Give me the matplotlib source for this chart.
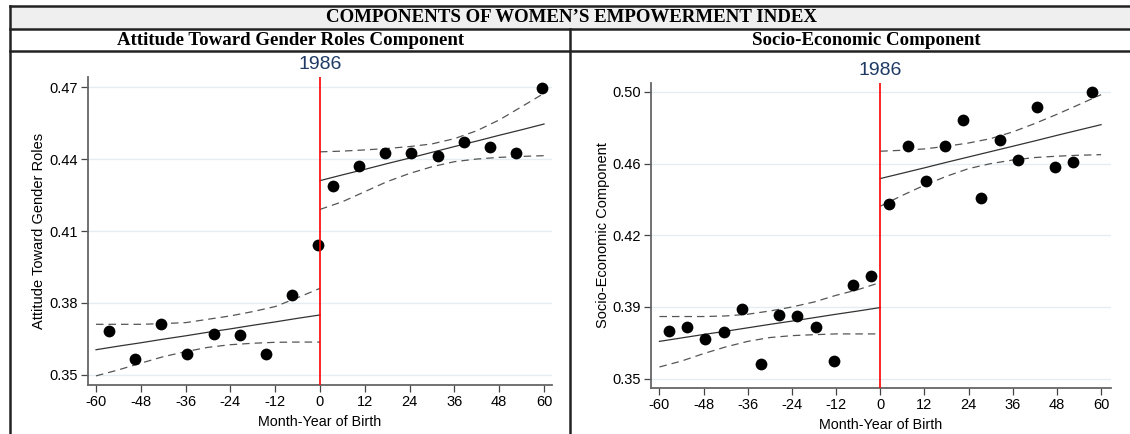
import numpy as np
import matplotlib.pyplot as plt
from matplotlib.lines import Line2D
from matplotlib.patches import Rectangle

plt.rcParams['font.family'] = ['Liberation Sans', 'DejaVu Sans']

# ---- data ----
# panel 1 : attitude toward gender roles (7-month bins)
att_x_pre = [-56.5, -49.5, -42.5, -35.5, -28.5, -21.5, -14.5, -7.5, -0.5]
att_y_pre = [0.3683, 0.3568, 0.3711, 0.3586, 0.3671, 0.3668, 0.3586, 0.3832, 0.4042]
att_x_post = [3.5, 10.5, 17.5, 24.5, 31.5, 38.5, 45.5, 52.5, 59.5]
att_y_post = [0.4288, 0.4372, 0.4426, 0.4424, 0.4413, 0.4472, 0.4449, 0.4426, 0.4697]

# fitted line + 95% CI, read at 6 month steps
ci_x_pre = [-60, -54, -48, -42, -36, -30, -24, -18, -12, -6, 0]
ci_x_post = [0, 6, 12, 18, 24, 30, 36, 42, 48, 54, 60]
att_fit_pre = [0.3605, 0.3620, 0.3634, 0.3649, 0.3663, 0.3678, 0.3692, 0.3707, 0.3721, 0.3736, 0.3750]
att_hi_pre = [0.3711, 0.3711, 0.3711, 0.3714, 0.3718, 0.3732, 0.3746, 0.3764, 0.3785, 0.3822, 0.3861]
att_lo_pre = [0.3496, 0.3521, 0.3549, 0.3576, 0.3597, 0.3615, 0.3626, 0.3632, 0.3636, 0.3637, 0.3637]
att_fit_post = [0.4310, 0.4334, 0.4357, 0.4381, 0.4404, 0.4428, 0.4452, 0.4475, 0.4499, 0.4522, 0.4546]
att_hi_post = [0.4430, 0.4433, 0.4438, 0.4444, 0.4452, 0.4463, 0.4485, 0.4518, 0.4563, 0.4618, 0.4674]
att_lo_post = [0.4190, 0.4222, 0.4264, 0.4306, 0.4340, 0.4368, 0.4389, 0.4400, 0.4407, 0.4411, 0.4414]

# panel 2 : socio-economic component (5-month bins)
soc_x_pre = [-57.5, -52.5, -47.5, -42.5, -37.5, -32.5, -27.5, -22.5, -17.5, -12.5, -7.5, -2.5]
soc_y_pre = [0.3748, 0.3770, 0.3710, 0.3743, 0.3863, 0.3575, 0.3831, 0.3828, 0.3770, 0.3594, 0.3988, 0.4037]
soc_x_post = [2.5, 7.5, 12.5, 17.5, 22.5, 27.5, 32.5, 37.5, 42.5, 47.5, 52.5, 57.5]
soc_y_post = [0.4416, 0.4717, 0.4533, 0.4717, 0.4854, 0.4447, 0.4747, 0.4643, 0.4922, 0.4610, 0.4636, 0.5000]

soc_fit_pre = [0.3695, 0.3713, 0.3731, 0.3748, 0.3766, 0.3784, 0.3801, 0.3819, 0.3837, 0.3854, 0.3872]
soc_hi_pre = [0.3825, 0.3825, 0.3825, 0.3828, 0.3837, 0.3854, 0.3875, 0.3901, 0.3936, 0.3966, 0.4003]
soc_lo_pre = [0.3561, 0.3592, 0.3631, 0.3666, 0.3695, 0.3715, 0.3725, 0.3730, 0.3734, 0.3734, 0.3734]
soc_fit_post = [0.4547, 0.4575, 0.4603, 0.4632, 0.4660, 0.4688, 0.4716, 0.4744, 0.4773, 0.4801, 0.4829]
soc_hi_post = [0.4690, 0.4695, 0.4702, 0.4716, 0.4733, 0.4756, 0.4791, 0.4835, 0.4883, 0.4934, 0.4986]
soc_lo_post = [0.4402, 0.4459, 0.4512, 0.4559, 0.4599, 0.4625, 0.4644, 0.4657, 0.4664, 0.4669, 0.4672]

x_ticks = [-60, -48, -36, -24, -12, 0, 12, 24, 36, 48, 60]
att_ticks = [0.35, 0.38, 0.41, 0.44, 0.47]
att_ticklabels = ['0.35', '0.38', '0.41', '0.44', '0.47']
soc_ticks = [0.35, 0.3875, 0.425, 0.4625, 0.50]
soc_ticklabels = ['0.35', '0.39', '0.42', '0.46', '0.50']

W, H = 1130, 434
fig = plt.figure(figsize=(W / 100, H / 100), dpi=100)


def fx(px):
    return px / W


def fy(py):
    return 1 - py / H


# table-like frame
fig.patches.append(Rectangle((fx(10), fy(29)), 1 - fx(10), fy(6) - fy(29),
                             transform=fig.transFigure, facecolor='#efefef',
                             edgecolor='none', zorder=0))
frame_kw = dict(transform=fig.transFigure, color='#222222', lw=1.8)
fig.lines += [
    Line2D([fx(10), 1], [fy(6), fy(6)], **frame_kw),
    Line2D([fx(10), 1], [fy(29), fy(29)], **frame_kw),
    Line2D([fx(10), 1], [fy(51), fy(51)], **frame_kw),
    Line2D([fx(10), fx(10)], [fy(6), 0], **frame_kw),
    Line2D([fx(570), fx(570)], [fy(29), 0], **frame_kw),
]

serif = ['Liberation Serif', 'DejaVu Serif']
fig.text(fx(571), fy(17.5), 'COMPONENTS OF WOMEN\u2019S EMPOWERMENT INDEX', ha='center', va='center',
         family=serif, weight='bold', fontsize=13.6)
fig.text(fx(291), fy(40.5), 'Attitude Toward Gender Roles Component', ha='center', va='center',
         family=serif, weight='bold', fontsize=13.6)
fig.text(fx(866), fy(40.5), 'Socio-Economic Component', ha='center', va='center',
         family=serif, weight='bold', fontsize=13.6)


def panel(rect, xlim, ylim, xp, yp, xq, yq, fit_pre, hi_pre, lo_pre, fit_post, hi_post, lo_post,
          yticks, yticklabels, ylabel):
    ax = fig.add_axes(rect)
    ax.set_xlim(*xlim)
    ax.set_ylim(*ylim)
    for y in yticks:
        ax.axhline(y, color='#e4eef0', lw=1, zorder=0)
    for fit, hi, lo, xs in [(fit_pre, hi_pre, lo_pre, ci_x_pre), (fit_post, hi_post, lo_post, ci_x_post)]:
        ax.plot(xs, fit, color='#333333', lw=0.9, zorder=2)
        ax.plot(xs, hi, color='#555555', lw=0.9, ls=(0, (6, 4)), zorder=2)
        ax.plot(xs, lo, color='#555555', lw=0.9, ls=(0, (6, 4)), zorder=2)
    ax.scatter(xp + xq, yp + yq, s=72, color='black', zorder=3, linewidths=0)
    ax.axvline(0, color='red', lw=1.2, zorder=4)
    ax.text(0, 1.04, '1986', transform=ax.get_xaxis_transform(), ha='center', va='center',
            fontsize=14, color='#1f3a64')
    ax.set_xticks(x_ticks)
    ax.set_xticklabels([str(t) for t in x_ticks])
    ax.set_yticks(yticks)
    ax.set_yticklabels(yticklabels)
    for s in ['top', 'right']:
        ax.spines[s].set_visible(False)
    for s in ['left', 'bottom']:
        ax.spines[s].set_color('#666666')
        ax.spines[s].set_linewidth(1.3)
    ax.tick_params(direction='out', length=5, width=0.9, color='#444444', labelsize=10.5, pad=2)
    ax.set_xlabel('Month-Year of Birth', fontsize=10.3)
    ax.xaxis.set_label_coords(0.5, -0.098)
    ax.set_ylabel(ylabel, fontsize=10.5)
    return ax


ax1 = panel([fx(88), fy(385), (552 - 88) / W, (385 - 77) / H], (-62.14, 62.14), (0.3458, 0.4742),
            att_x_pre, att_y_pre, att_x_post, att_y_post,
            att_fit_pre, att_hi_pre, att_lo_pre, att_fit_post, att_hi_post, att_lo_post,
            att_ticks, att_ticklabels, 'Attitude Toward Gender Roles')
ax1.yaxis.set_label_coords(-0.091, 0.5)

ax2 = panel([fx(651), fy(388), (1111 - 651) / W, (388 - 83) / H], (-62.3, 62.7), (0.3451, 0.5047),
            soc_x_pre, soc_y_pre, soc_x_post, soc_y_post,
            soc_fit_pre, soc_hi_pre, soc_lo_pre, soc_fit_post, soc_hi_post, soc_lo_post,
            soc_ticks, soc_ticklabels, 'Socio-Economic Component')
ax2.yaxis.set_label_coords(-0.090, 0.5)

fig.savefig('out.png', dpi=100)
